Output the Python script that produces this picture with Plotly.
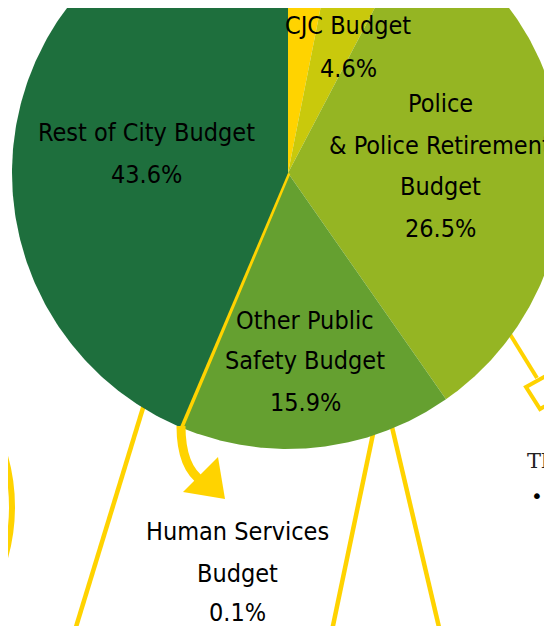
import numpy as np
import plotly.graph_objects as go

# slice shares, clockwise from 12 o'clock (as drawn)
slice_names = ["Unlabeled", "CJC Budget", "Police & Police Retirement Budget",
               "Other Public Safety Budget", "Human Services Budget", "Rest of City Budget"]
slice_values = [3.1, 4.6, 32.6, 16.0, 0.1, 43.6]
slice_colors = ["#FFD300", "#C9C90C", "#95B523", "#65A030", "#FFD300", "#1E6F3D"]

# label texts shown on the chart
label_lines = [
    ["CJC Budget", "4.6%"],
    ["Police", "& Police Retirement", "Budget", "26.5%"],
    ["Rest of City Budget", "43.6%"],
    ["Other Public", "Safety Budget", "15.9%"],
    ["Human Services", "Budget", "0.1%"],
]

CX, CY, R = 288, 173, 276
YEL = "#FFD300"
FONT = "DejaVu Sans Condensed, DejaVu Sans, sans-serif"
OFF = 8  # page body margin

fig = go.Figure()

# decorative yellow lines under the pie
for (x0, y0, x1, y1) in [(150, 385, 72, 640), (378, 410, 330, 640), (388, 410, 442, 640)]:
    fig.add_shape(type="line", x0=x0, y0=y0, x1=x1, y1=y1, layer="below",
                  line=dict(color=YEL, width=4.5))
fig.add_shape(type="line", x0=495, y0=310, x1=537, y1=378, layer="below",
              line=dict(color=YEL, width=4))
fig.add_shape(type="path", path="M 526 387 L 551 373 L 565 395 L 540 409 Z",
              line=dict(color=YEL, width=4), fillcolor="white")
fig.add_shape(type="circle", x0=-362, y0=320, x1=12, y1=694,
              line=dict(color=YEL, width=6))

# pie slices
bounds = np.concatenate([[0], np.cumsum(slice_values)]) / sum(slice_values) * 2 * np.pi
for i, name in enumerate(slice_names):
    t = np.linspace(bounds[i], bounds[i + 1], 200)
    xs = np.concatenate([[CX], CX + R * np.sin(t), [CX]])
    ys = np.concatenate([[CY], CY - R * np.cos(t), [CY]])
    thin = slice_values[i] < 1
    fig.add_trace(go.Scatter(
        x=xs, y=ys, fill="toself", fillcolor=slice_colors[i], name=name,
        mode="lines", line=dict(color=slice_colors[i], width=5 if thin else 0),
        hoverinfo="name", showlegend=False))

# curved arrow from the Human Services slice
fig.add_shape(type="path", path="M 181 426 Q 181 468 203 482",
              line=dict(color=YEL, width=9))
fig.add_shape(type="path", path="M 183 492 L 225 499 L 218 457 Z",
              line=dict(color=YEL, width=0), fillcolor=YEL)

# labels
label_pos = [
    (348, [25, 68]),
    (440, [103, 145, 186, 228]),
    (146, [132, 174]),
    (305, [320, 360, 402]),
    (237, [531, 573, 612]),
]
for lines, (x, ys) in zip(label_lines, label_pos):
    for txt, y in zip(lines, ys):
        fig.add_annotation(x=x, y=y, text=txt, showarrow=False,
                           font=dict(family=FONT, size=25, color="black"))

fig.add_annotation(x=525, y=461, text="Th", showarrow=False, xanchor="left",
                   font=dict(family="DejaVu Serif", size=21, color="#222"))
fig.add_annotation(x=529, y=496, text="•", showarrow=False, xanchor="left",
                   font=dict(family="DejaVu Sans", size=20, color="black"))

fig.update_xaxes(range=[OFF, 552 + OFF], visible=False)
fig.update_yaxes(range=[626 + OFF, OFF], visible=False)
fig.update_layout(width=552, height=626, margin=dict(l=0, r=0, t=0, b=0),
                  plot_bgcolor="white", paper_bgcolor="white")

fig.write_html("out.html")
